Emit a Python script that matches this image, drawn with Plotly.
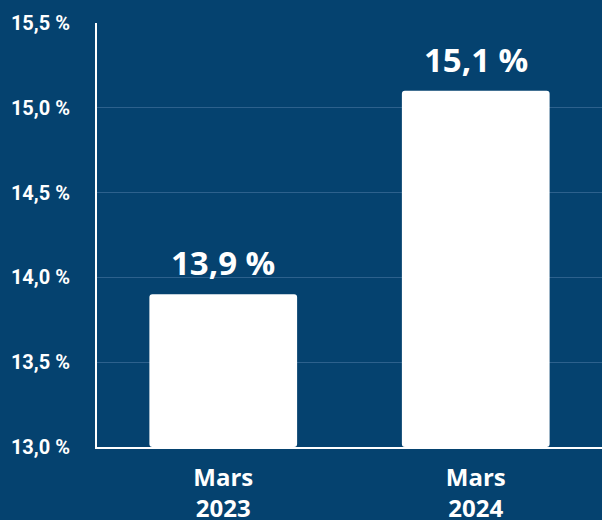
import plotly.graph_objects as go

categories = ["Mars<br>2023", "Mars<br>2024"]
values = [13.9, 15.1]
value_labels = ["13,9 %", "15,1 %"]
tick_vals = [13.0, 13.5, 14.0, 14.5, 15.0, 15.5]
tick_text = ["13,0 %", "13,5 %", "14,0 %", "14,5 %", "15,0 %", "15,5 %"]
axis_base = 13.0

BG = "#05426f"

fig = go.Figure()
fig.add_trace(go.Bar(
    x=categories, y=[v - axis_base for v in values], base=axis_base,
    marker=dict(color="white", line=dict(width=0)),
    width=0.585, hoverinfo="skip",
))

for c, v, t in zip(categories, values, value_labels):
    fig.add_annotation(x=c, y=v, text=t, showarrow=False, yanchor="bottom", yshift=7,
                       font=dict(family="Open Sans", size=33, color="white", weight="bold"))

fig.update_layout(
    width=602, height=520,
    paper_bgcolor=BG, plot_bgcolor=BG,
    margin=dict(l=97, r=0, t=23, b=73),
    showlegend=False,
    barcornerradius=3,
    xaxis=dict(showline=True, linecolor="white", linewidth=2, automargin=False,
               tickfont=dict(family="Open Sans", size=24, color="white", weight="bold"),
               range=[-0.5, 1.5], showgrid=False, ticks="", ticklabelstandoff=8),
    yaxis=dict(range=[13.0, 15.5], tickvals=tick_vals, ticktext=tick_text, automargin=False,
               showline=True, linecolor="white", linewidth=2,
               showgrid=True, gridcolor="#2d618d", gridwidth=1,
               tickfont=dict(family="Roboto", size=20, color="white", weight="bold"),
               ticklabelstandoff=21, zeroline=False),
)
fig.write_html("out.html", config={"displayModeBar": False},
               post_script="document.body.style.margin='0';document.body.style.background='" + BG + "';")
